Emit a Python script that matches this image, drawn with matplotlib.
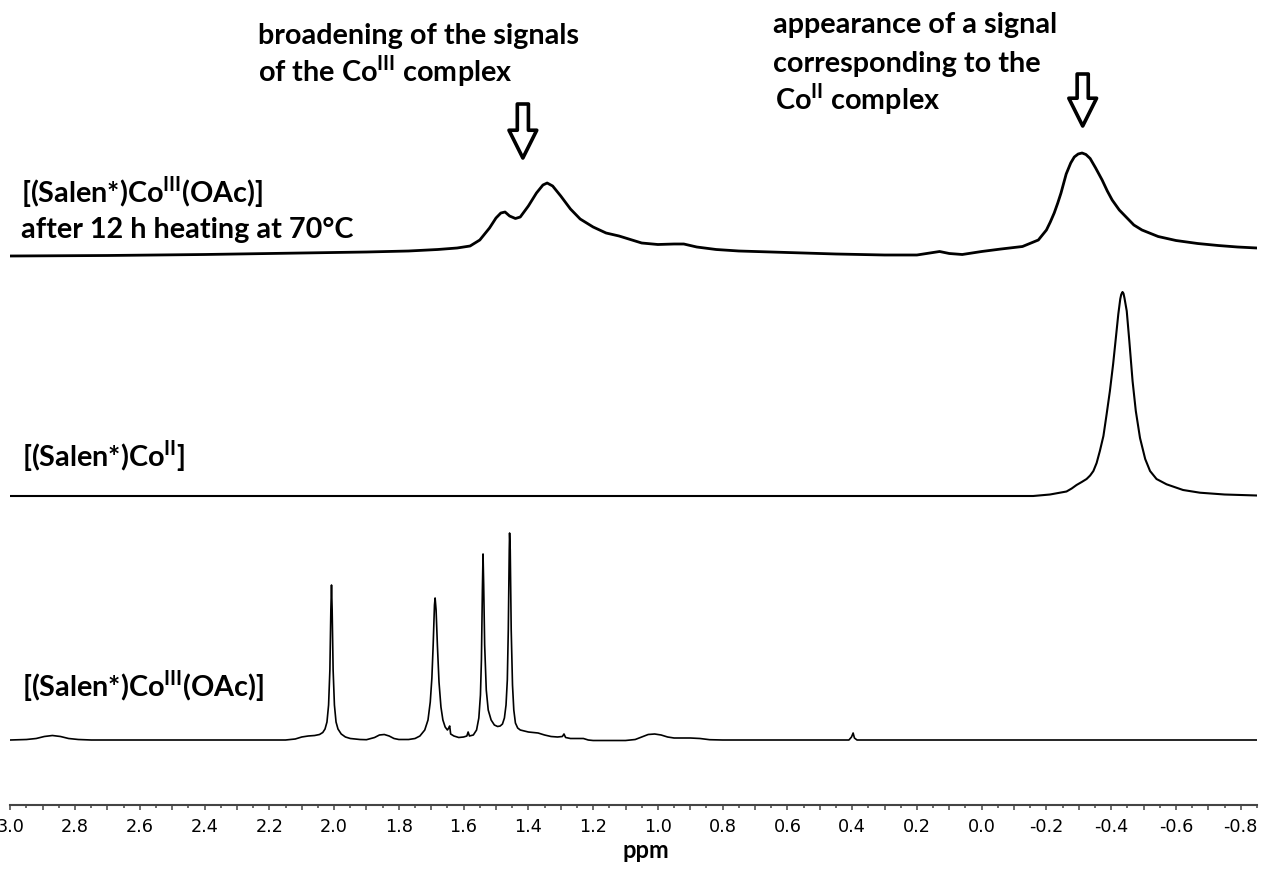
import matplotlib
matplotlib.use('Agg')
import matplotlib.pyplot as plt
from matplotlib.ticker import MultipleLocator, FuncFormatter

# NMR traces: chemical shift (ppm) and height above each trace's baseline
top_ppm = [3.00, 2.70, 2.40, 2.10, 1.90, 1.77, 1.68, 1.62, 1.58, 1.55, 1.52, 1.50, 1.485, 1.472,
           1.458, 1.44, 1.425, 1.40, 1.375, 1.355, 1.342, 1.325, 1.30, 1.27, 1.24, 1.20, 1.16,
           1.12, 1.09, 1.05, 1.00, 0.95, 0.92, 0.88, 0.82, 0.75, 0.60, 0.45, 0.30, 0.20, 0.16,
           0.13, 0.10, 0.06, 0.00, -0.06, -0.126, -0.175, -0.20, -0.212, -0.224, -0.235, -0.245,
           -0.261, -0.275, -0.286, -0.298, -0.310, -0.322, -0.335, -0.352, -0.372, -0.388,
           -0.403, -0.425, -0.446, -0.47, -0.495, -0.545, -0.60, -0.667, -0.73, -0.79, -0.85]
top_int = [0, 0.5, 1.5, 3, 4, 5, 6.5, 8, 10, 16, 28, 38, 43, 44,
           40, 37.5, 39, 50, 63, 71, 73, 70, 60, 47, 37, 29, 23,
           20, 17, 13, 11.5, 12, 12, 9, 6.5, 5, 3.5, 2, 1, 1, 3,
           4.5, 2.5, 1.5, 4.5, 7, 9.5, 16, 26, 34, 43, 53, 63,
           82, 93, 99, 102, 103, 101.5, 97.5, 88, 76, 65,
           56, 46, 39, 31, 26, 19.5, 15.5, 12.5, 10.5, 9, 8]

mid_ppm = [3.00, 0.00, -0.159, -0.211, -0.262, -0.278, -0.293, -0.309, -0.324, -0.335, -0.345,
           -0.355, -0.365, -0.376, -0.386, -0.396, -0.406, -0.415, -0.422, -0.428, -0.431,
           -0.435, -0.438, -0.441, -0.448, -0.456, -0.466, -0.476, -0.489, -0.505, -0.520,
           -0.540, -0.571, -0.622, -0.674, -0.750, -0.85]
mid_int = [0, 0, 0, 1.5, 4.5, 7.5, 11, 14, 17, 20.5, 25,
           33, 45, 60, 82, 105, 132, 160, 182, 197, 201.5,
           204, 202.5, 198, 185, 155, 115, 85, 58, 37, 25,
           17, 11.7, 6, 3.3, 1.5, 0.5]

bot_ppm = [3.00, 2.95, 2.92, 2.895, 2.87, 2.845, 2.82, 2.79, 2.75, 2.40, 2.15, 2.12, 2.10, 2.08,
           2.06, 2.045, 2.035, 2.028, 2.022, 2.017, 2.013, 2.010, 2.008, 2.006, 2.003, 1.999,
           1.994, 1.988, 1.978, 1.965, 1.950, 1.920, 1.900, 1.875, 1.860, 1.845, 1.830, 1.815,
           1.800, 1.770, 1.750, 1.735, 1.720, 1.710, 1.703, 1.698, 1.694, 1.690, 1.688, 1.685,
           1.681, 1.676, 1.670, 1.664, 1.657, 1.650, 1.646, 1.643, 1.640, 1.630, 1.615, 1.600,
           1.590, 1.586, 1.582, 1.570, 1.560, 1.553, 1.548, 1.545, 1.542, 1.540, 1.538, 1.535,
           1.530, 1.524, 1.515, 1.505, 1.495, 1.487, 1.480, 1.474, 1.469, 1.465, 1.462, 1.459,
           1.458, 1.456, 1.453, 1.449, 1.445, 1.440, 1.433, 1.425, 1.400, 1.370, 1.350, 1.330,
           1.310, 1.295, 1.290, 1.285, 1.270, 1.230, 1.215, 1.200, 1.100, 1.070, 1.050, 1.030,
           1.010, 0.990, 0.970, 0.950, 0.900, 0.870, 0.840, 0.800, 0.410, 0.402, 0.397, 0.393,
           0.385, -0.85]
bot_int = [0, 0.5, 1.5, 3.5, 4.5, 3.5, 1.5, 0.5, 0, 0, 0, 1, 3, 4,
           4.5, 5.5, 7.5, 11, 18, 35, 70, 130, 155, 130, 70, 35,
           18, 11, 6, 3, 1.5, 0.5, 0.3, 2.5, 5, 5.5, 4, 1.5,
           0.5, 0.5, 1.5, 4, 10, 20, 38, 62, 95, 135, 142, 130,
           95, 58, 33, 20, 13, 10, 12, 14, 6, 4, 2.5, 3,
           4, 8, 4, 5, 10, 22, 45, 80, 150, 186, 155, 95,
           50, 30, 20, 15, 13.5, 14, 16, 22, 35, 60, 110, 190,
           207, 190, 110, 55, 30, 17, 12, 10, 8, 7, 5, 3.5,
           3, 3.5, 6, 2.5, 1.5, 1.5, 0, -0.5, -0.5, 0.5, 3, 5.5,
           6, 5, 3, 2, 2, 1.5, 0.3, 0, 0, 3, 7, 2,
           0, 0]

label_top = ['[(Salen*)Co$^{\\mathrm{III}}$(OAc)]', 'after 12 h heating at 70°C']
label_mid = '[(Salen*)Co$^{\\mathrm{II}}$]'
label_bot = '[(Salen*)Co$^{\\mathrm{III}}$(OAc)]'
note_left = ['broadening of the signals', 'of the Co$^{\\mathrm{III}}$ complex']
note_right = ['appearance of a signal', 'corresponding to the', 'Co$^{\\mathrm{II}}$ complex']
arrow_ppm = [1.417, -0.312]

plt.rcParams['axes.unicode_minus'] = False
plt.rcParams['mathtext.fontset'] = 'custom'
plt.rcParams['mathtext.rm'] = 'Lato:bold'
plt.rcParams['mathtext.bf'] = 'Lato:bold'

W, H = 1264, 869
fig = plt.figure(figsize=(W / 100, H / 100), dpi=100)
ax = fig.add_axes([10.3 / W, (H - 805) / H, 1246.6 / W, 805 / H])
ax.set_xlim(3.0, -0.85)
ax.set_ylim(0, 805)

# stacked traces (offsets in pixel units above the axis line)
ax.plot(top_ppm, [549 + v for v in top_int], color='black', lw=2.0)
ax.plot(mid_ppm, [309 + v for v in mid_int], color='black', lw=1.5)
ax.plot(bot_ppm, [65 + v for v in bot_int], color='black', lw=1.2)

for s in ['left', 'right', 'top']:
    ax.spines[s].set_visible(False)
ax.spines['bottom'].set_color('#444444')
ax.spines['bottom'].set_linewidth(1.5)
ax.set_yticks([])
ax.xaxis.set_major_locator(MultipleLocator(0.1))
ax.xaxis.set_minor_locator(MultipleLocator(0.05))


def fmt(v, pos):
    n = int(round(v * 10))
    if n % 2:
        return ''
    return f'{abs(v):.1f}' if n == 0 else f'{v:.1f}'


ax.xaxis.set_major_formatter(FuncFormatter(fmt))
ax.tick_params(axis='x', which='major', direction='out', length=3.6, width=1.1,
               color='#444444', labelsize=12.7, pad=6)
ax.tick_params(axis='x', which='minor', direction='out', length=1.8, width=1.1, color='#444444')

# hollow down arrows
astyle = 'simple,head_length=20,head_width=20,tail_width=8'
ax.annotate('', xy=(arrow_ppm[0], 805 - 158), xytext=(arrow_ppm[0], 805 - 104),
            arrowprops=dict(arrowstyle=astyle, mutation_scale=1, fc='white', ec='black',
                            lw=2.6, shrinkA=0, shrinkB=0))
ax.annotate('', xy=(arrow_ppm[1], 805 - 126), xytext=(arrow_ppm[1], 805 - 74),
            arrowprops=dict(arrowstyle=astyle, mutation_scale=1, fc='white', ec='black',
                            lw=2.6, shrinkA=0, shrinkB=0))

tkw = dict(fontsize=20.7, fontfamily='Lato', fontweight='bold', ha='left', va='baseline')


def put(x, y, s):
    fig.text(x / W, 1 - y / H, s, **tkw)


put(258, 44, note_left[0])
put(258, 82, note_left[1])
put(773, 33, note_right[0])
put(773, 72, note_right[1])
put(775, 110, note_right[2])
put(21, 203, label_top[0])
put(21, 238, label_top[1])
put(22, 467, label_mid)
put(22, 697, label_bot)

fig.text(646 / W, 1 - 858 / H, 'ppm', fontsize=17, fontfamily='Lato', fontweight='bold',
         ha='center', va='baseline')

fig.savefig('out.png', dpi=100)
